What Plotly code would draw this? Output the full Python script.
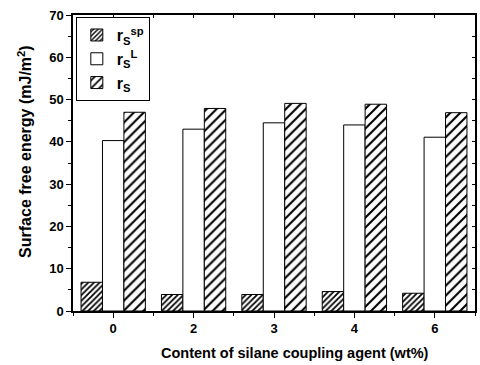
import plotly.graph_objects as go

categories = ["0", "2", "3", "4", "6"]
r_sp = [6.8, 3.9, 3.9, 4.6, 4.2]
r_L = [40.3, 43.0, 44.5, 44.0, 41.1]
r_S = [47.0, 47.9, 49.1, 48.9, 46.9]
y_ticks = [0, 10, 20, 30, 40, 50, 60, 70]

xpos = list(range(len(categories)))
FONT = "Arial, Liberation Sans, sans-serif"

fig = go.Figure()
fig.add_trace(go.Bar(
    x=xpos, y=r_sp, name="<b>r<sub>S</sub><sup>sp</sup></b>",
    marker=dict(color="white", line=dict(color="black", width=1),
                pattern=dict(shape="/", size=4, solidity=0.45, fgcolor="black",
                             bgcolor="white", fgopacity=1)),
))
fig.add_trace(go.Bar(
    x=xpos, y=r_L, name="<b>r<sub>S</sub><sup>L</sup></b>",
    marker=dict(color="white", line=dict(color="black", width=1)),
))
fig.add_trace(go.Bar(
    x=xpos, y=r_S, name="<b>r<sub>S</sub></b>",
    marker=dict(color="white", line=dict(color="black", width=1),
                pattern=dict(shape="/", size=7, solidity=0.3, fgcolor="black",
                             bgcolor="white", fgopacity=1)),
))
# dummy trace for mirrored (inward) ticks on top / right
fig.add_trace(go.Scatter(x=[xpos[0]], y=[0], xaxis="x2", yaxis="y2", mode="markers",
                         marker=dict(opacity=0), showlegend=False, hoverinfo="skip"))

fig.update_layout(
    width=480, height=365,
    margin=dict(l=73, r=3, t=15, b=54),
    paper_bgcolor="white", plot_bgcolor="white",
    barmode="group", bargap=0.2, bargroupgap=0,
    font=dict(family=FONT, size=13, color="black"),
    showlegend=True,
    legend=dict(x=0.007, y=0.993, xanchor="left", yanchor="top",
                bordercolor="black", borderwidth=1, bgcolor="white",
                font=dict(family=FONT, size=16, color="black"),
                tracegroupgap=6, itemwidth=30),
    xaxis=dict(range=[-0.5, 4.5], tickvals=xpos, ticktext=["<b>%s</b>" % c for c in categories],
               ticks="outside", ticklen=5, tickwidth=1, tickcolor="black",
               showline=True, linecolor="black", linewidth=1.5, mirror=True,
               showgrid=False, zeroline=False,
               minor=dict(tick0=0.5, dtick=1, ticks="outside", ticklen=3, tickcolor="black"),
               tickfont=dict(family=FONT, size=13, color="black")),
    yaxis=dict(range=[0, 70], tickvals=y_ticks, ticktext=["<b>%d</b>" % v for v in y_ticks],
               ticks="outside", ticklen=5, tickwidth=1, tickcolor="black",
               showline=True, linecolor="black", linewidth=1.5, mirror=True,
               showgrid=False, zeroline=False,
               minor=dict(dtick=5, ticks="outside", ticklen=3, tickcolor="black"),
               tickfont=dict(family=FONT, size=13, color="black")),
    xaxis2=dict(overlaying="x", side="top", range=[-0.5, 4.5], tickmode="linear", tick0=0.5, dtick=0.5,
                ticks="inside", ticklen=3, tickcolor="black", showticklabels=False,
                showgrid=False, zeroline=False, showline=False),
    yaxis2=dict(overlaying="y", side="right", range=[0, 70], tickmode="linear", tick0=0, dtick=5,
                ticks="inside", ticklen=3, tickcolor="black", showticklabels=False,
                showgrid=False, zeroline=False, showline=False),
    annotations=[
        dict(text="<b>Surface free energy (mJ/m<sup>2</sup>)</b>", textangle=-90,
             xref="paper", yref="paper", x=-0.12, y=0.54, xanchor="center", yanchor="middle",
             showarrow=False, font=dict(family=FONT, size=16, color="black")),
        dict(text="<b>Content of silane coupling agent (wt%)</b>",
             xref="paper", yref="paper", x=0.552, y=-0.142, xanchor="center", yanchor="middle",
             showarrow=False, font=dict(family=FONT, size=14.5, color="black")),
    ],
)

fig.write_html("out.html")
